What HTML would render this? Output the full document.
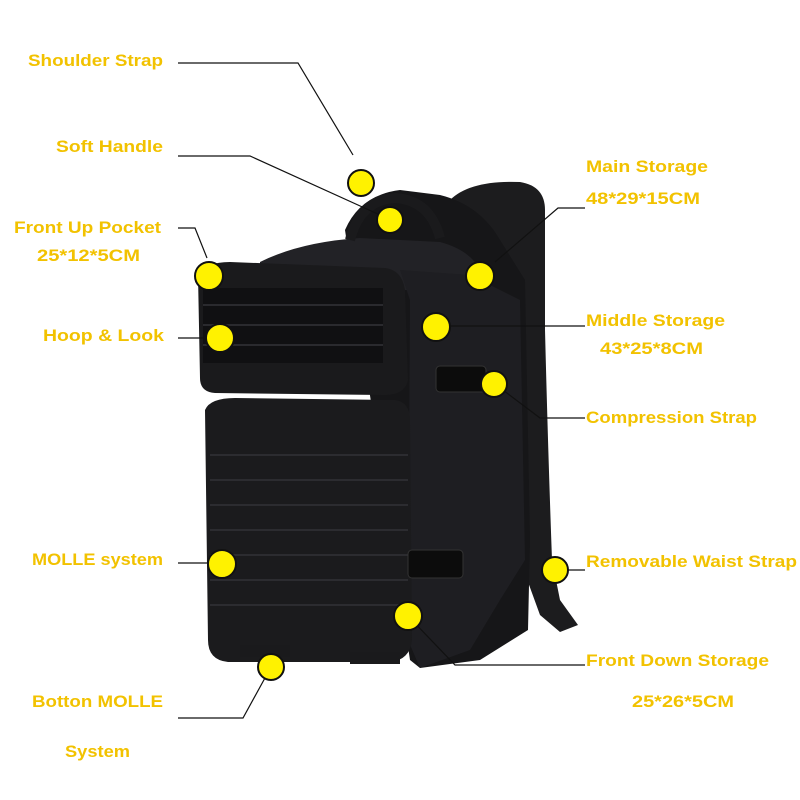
<!DOCTYPE html>
<html><head><meta charset="utf-8"><style>
html,body{margin:0;padding:0;background:#fff;width:800px;height:800px;overflow:hidden}
text{font-family:"Liberation Sans",sans-serif;font-weight:bold;font-size:17px;fill:#f2c200}
</style></head><body>
<svg width="800" height="800" viewBox="0 0 800 800" xmlns="http://www.w3.org/2000/svg">
<g>
<path d="M450,200 Q470,180 520,182 Q545,186 545,210 L545,330 Q548,450 552,560 L560,600 L578,625 L560,632 L540,615 L520,560 L510,420 L505,280 Z" fill="#1c1c1e"/>
<path d="M345,230 Q360,195 400,190 L440,195 Q480,205 500,240 L525,280 L530,540 L528,630 L480,660 L420,668 L410,660 Z" fill="#161618"/>
<path d="M260,262 Q300,242 360,238 L440,242 Q470,250 480,270 L470,290 L400,290 L260,285 Z" fill="#222226"/>
<path d="M400,270 L470,275 L500,290 L520,300 L525,560 L500,600 L470,650 L420,668 L408,640 L410,300 Z" fill="#1e1e22"/>
<path d="M198,275 Q205,262 230,262 L385,268 Q402,270 405,290 L408,380 Q405,395 385,395 L215,393 Q200,392 200,378 Z" fill="#1a1a1c"/>
<rect x="203" y="288" width="180" height="75" fill="#101012"/>
<g stroke="#2a2a2e" stroke-width="2">
<line x1="203" y1="305" x2="383" y2="305"/><line x1="203" y1="325" x2="383" y2="325"/><line x1="203" y1="345" x2="383" y2="345"/>
</g>
<path d="M205,410 Q210,398 235,398 L395,400 Q410,402 410,420 L412,640 Q410,660 390,662 L228,662 Q208,660 208,640 Z" fill="#1b1b1d"/>
<g stroke="#2c2c30" stroke-width="2">
<line x1="210" y1="455" x2="408" y2="455"/><line x1="210" y1="480" x2="408" y2="480"/><line x1="210" y1="505" x2="408" y2="505"/><line x1="210" y1="530" x2="408" y2="530"/><line x1="210" y1="555" x2="408" y2="555"/><line x1="210" y1="580" x2="408" y2="580"/><line x1="210" y1="605" x2="408" y2="605"/>
</g>
<rect x="436" y="366" width="50" height="26" rx="4" fill="#0c0c0c" stroke="#333" />
<rect x="408" y="550" width="55" height="28" rx="4" fill="#0c0c0c" stroke="#333"/>
<path d="M350,240 Q360,200 395,198 Q430,200 440,238" fill="none" stroke="#1a1a1c" stroke-width="10"/>
<rect x="240" y="645" width="50" height="12" fill="#1a1a1c"/>
<rect x="350" y="652" width="50" height="12" fill="#1a1a1c"/>
</g>
<g stroke="#111" stroke-width="1.2" fill="none">
<polyline points="178,63 298,63 353,155"/>
<polyline points="178,156 250,156 380,215"/>
<polyline points="178,228 195,228 207,258"/>
<line x1="178" y1="338" x2="208" y2="338"/>
<polyline points="585,208 558,208 495,262"/>
<line x1="440" y1="326" x2="585" y2="326"/>
<polyline points="495,384 540,418 585,418"/>
<line x1="178" y1="563" x2="222" y2="563"/>
<line x1="556" y1="570" x2="585" y2="570"/>
<polyline points="408,616 455,665 585,665"/>
<polyline points="178,718 243,718 271,667"/>
</g>
<g fill="#fff200" stroke="#111" stroke-width="2">
<circle cx="361" cy="183" r="13"/><circle cx="390" cy="220" r="13"/><circle cx="209" cy="276" r="14"/>
<circle cx="480" cy="276" r="14"/><circle cx="220" cy="338" r="14"/><circle cx="436" cy="327" r="14"/>
<circle cx="494" cy="384" r="13"/><circle cx="222" cy="564" r="14"/><circle cx="555" cy="570" r="13"/>
<circle cx="408" cy="616" r="14"/><circle cx="271" cy="667" r="13"/>
</g>
<text x="28" y="66" textLength="135" lengthAdjust="spacingAndGlyphs">Shoulder Strap</text>
<text x="56" y="152" textLength="107" lengthAdjust="spacingAndGlyphs">Soft Handle</text>
<text x="14" y="233" textLength="147" lengthAdjust="spacingAndGlyphs">Front Up Pocket</text>
<text x="37" y="261" textLength="103" lengthAdjust="spacingAndGlyphs">25*12*5CM</text>
<text x="43" y="341" textLength="121" lengthAdjust="spacingAndGlyphs">Hoop &amp; Look</text>
<text x="586" y="172" textLength="122" lengthAdjust="spacingAndGlyphs">Main Storage</text>
<text x="586" y="204" textLength="114" lengthAdjust="spacingAndGlyphs">48*29*15CM</text>
<text x="586" y="326" textLength="139" lengthAdjust="spacingAndGlyphs">Middle Storage</text>
<text x="600" y="354" textLength="103" lengthAdjust="spacingAndGlyphs">43*25*8CM</text>
<text x="586" y="423" textLength="171" lengthAdjust="spacingAndGlyphs">Compression Strap</text>
<text x="32" y="565" textLength="131" lengthAdjust="spacingAndGlyphs">MOLLE system</text>
<text x="586" y="567" textLength="211" lengthAdjust="spacingAndGlyphs">Removable Waist Strap</text>
<text x="586" y="666" textLength="183" lengthAdjust="spacingAndGlyphs">Front Down Storage</text>
<text x="632" y="707" textLength="102" lengthAdjust="spacingAndGlyphs">25*26*5CM</text>
<text x="32" y="707" textLength="131" lengthAdjust="spacingAndGlyphs">Botton MOLLE</text>
<text x="65" y="757" textLength="65" lengthAdjust="spacingAndGlyphs">System</text>
</svg>
</body></html>
